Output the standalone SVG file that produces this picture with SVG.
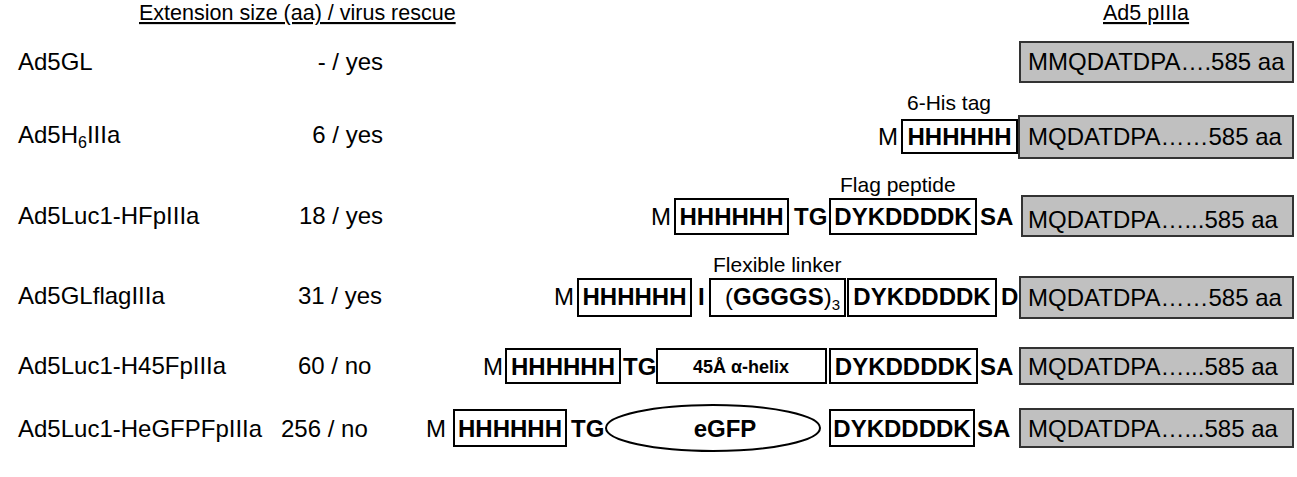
<svg xmlns="http://www.w3.org/2000/svg" width="1297" height="477" viewBox="0 0 1297 477">
<style>
text{font-family:"Liberation Sans",Arial,sans-serif;fill:#000}
.lbl{font-size:24px}
.hdr{font-size:21.5px;text-decoration:underline}
.ann{font-size:21px}
.m{font-size:24px}
.b{font-size:24px;font-weight:bold}
.seq{font-size:24px}
.box{fill:#fff;stroke:#000;stroke-width:2}
.gray{fill:#c0c0c0;stroke:#333;stroke-width:2}
.mid{text-anchor:middle}
.end{text-anchor:end}
</style>
<rect width="1297" height="477" fill="#fff"/>
<g id="headers">
<text class="hdr" x="139" y="20">Extension size (aa) / virus rescue</text>
<text class="hdr" x="1103" y="20">Ad5 pIIIa</text>
</g>
<g id="labels">
<text class="lbl" x="18" y="70">Ad5GL</text>
<text class="lbl end" x="383" y="70">- / yes</text>
<text class="lbl" x="18" y="143">Ad5H<tspan font-size="16" dy="5">6</tspan><tspan dy="-5">IIIa</tspan></text>
<text class="lbl end" x="383" y="143">6 / yes</text>
<text class="lbl" x="18" y="224">Ad5Luc1-HFpIIIa</text>
<text class="lbl end" x="383" y="224">18 / yes</text>
<text class="lbl" x="18" y="304">Ad5GLflagIIIa</text>
<text class="lbl" x="298" y="304">31 / yes</text>
<text class="lbl" x="18" y="374">Ad5Luc1-H45FpIIIa</text>
<text class="lbl" x="298" y="374">60 / no</text>
<text class="lbl" x="18" y="437">Ad5Luc1-HeGFPFpIIIa</text>
<text class="lbl" x="281" y="437">256 / no</text>
</g>
<g id="row1">
<rect class="gray" x="1020" y="42" width="273" height="40"/>
<text class="seq" x="1028" y="70">MMQDATDPA….585 aa</text>
</g>
<g id="row2">
<text class="ann" x="907" y="110">6-His tag</text>
<text class="m" x="878" y="145">M</text>
<rect class="box" x="902" y="120" width="115" height="33"/>
<text class="b mid" x="959.5" y="145">HHHHHH</text>
<rect class="gray" x="1019" y="116" width="274" height="42"/>
<text class="seq" x="1028" y="145">MQDATDPA……585 aa</text>
</g>
<g id="row3">
<text class="ann" x="840" y="192">Flag peptide</text>
<text class="m" x="651" y="225">M</text>
<rect class="box" x="675" y="199" width="113" height="35"/>
<text class="b mid" x="731.5" y="225">HHHHHH</text>
<text class="b" x="794" y="225">TG</text>
<rect class="box" x="830" y="199" width="146" height="35"/>
<text class="b mid" x="903" y="225">DYKDDDDK</text>
<text class="b" x="980" y="225">SA</text>
<rect class="gray" x="1022" y="196" width="271" height="40"/>
<text class="seq" x="1028" y="228">MQDATDPA…...585 aa</text>
</g>
<g id="row4">
<text class="ann" x="713" y="272">Flexible linker</text>
<text class="m" x="554" y="305">M</text>
<rect class="box" x="578" y="279" width="113" height="37"/>
<text class="b mid" x="634.5" y="305">HHHHHH</text>
<text class="b" x="698" y="305">I</text>
<rect class="box" x="710" y="279" width="135" height="37"/>
<text class="b" x="725" y="305"><tspan font-weight="normal">(</tspan>GGGGS<tspan font-weight="normal">)</tspan><tspan font-size="15" font-weight="normal" dy="5">3</tspan></text>
<rect class="box" x="848" y="279" width="148" height="37"/>
<text class="b mid" x="922" y="305">DYKDDDDK</text>
<text class="b" x="1001" y="305">D</text>
<rect class="gray" x="1020" y="277" width="273" height="41"/>
<text class="seq" x="1028" y="306">MQDATDPA……585 aa</text>
</g>
<g id="row5">
<text class="m" x="483" y="375">M</text>
<rect class="box" x="506" y="349" width="114" height="34"/>
<text class="b mid" x="563" y="375">HHHHHH</text>
<text class="b" x="623" y="375">TG</text>
<rect class="box" x="657" y="349" width="169" height="34"/>
<text class="mid" x="741" y="373" font-size="18" font-weight="bold">45Å α-helix</text>
<rect class="box" x="830" y="349" width="147" height="34"/>
<text class="b mid" x="903.5" y="375">DYKDDDDK</text>
<text class="b" x="980" y="375">SA</text>
<rect class="gray" x="1020" y="348" width="273" height="36"/>
<text class="seq" x="1028" y="375">MQDATDPA…...585 aa</text>
</g>
<g id="row6">
<text class="m" x="426" y="437">M</text>
<rect class="box" x="454" y="410" width="112" height="36"/>
<text class="b mid" x="510" y="437">HHHHHH</text>
<text class="b" x="571" y="437">TG</text>
<ellipse cx="713" cy="428" rx="107" ry="23" fill="#fff" stroke="#000" stroke-width="2"/>
<text class="b mid" x="725" y="437">eGFP</text>
<rect class="box" x="830" y="410" width="144" height="36"/>
<text class="b mid" x="902" y="437">DYKDDDDK</text>
<text class="b" x="977" y="437">SA</text>
<rect class="gray" x="1020" y="409" width="273" height="38"/>
<text class="seq" x="1028" y="437">MQDATDPA…...585 aa</text>
</g>
</svg>
